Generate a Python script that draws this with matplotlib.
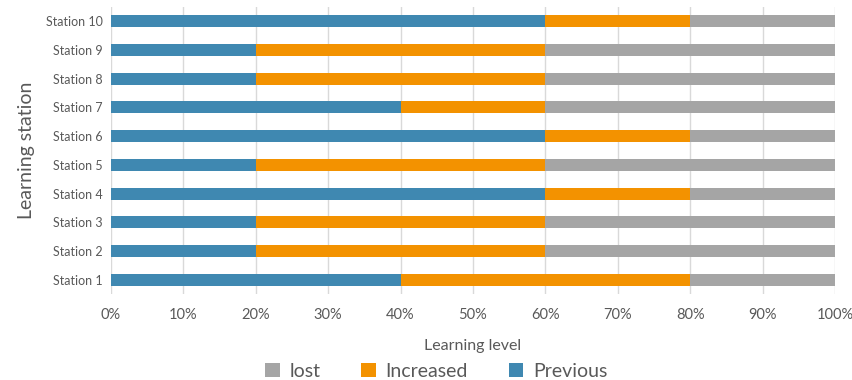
import matplotlib
matplotlib.use("Agg")
import matplotlib.pyplot as plt
import numpy as np

plt.rcParams['font.family'] = ['Lato', 'DejaVu Sans']

stations = [f"Station {i}" for i in range(1, 11)]
previous = [40, 20, 20, 60, 20, 60, 40, 20, 20, 60]
increased = [40, 40, 40, 20, 40, 20, 20, 40, 40, 20]
lost = [20, 40, 40, 20, 40, 20, 40, 40, 40, 20]

c_prev = '#3F88B1'
c_inc = '#F39200'
c_lost = '#A5A5A5'
txt = '#595959'

fig = plt.figure(figsize=(8.52, 3.8), dpi=100)
ax = fig.add_axes([0.1303, 0.2253, 0.8497, 0.7573])
y = np.arange(len(stations))
h = 0.42
prev = np.array(previous)
inc = np.array(increased)
ls = np.array(lost)
b1 = ax.barh(y, prev, height=h, color=c_prev, label='Previous', zorder=3)
b2 = ax.barh(y, inc, left=prev, height=h, color=c_inc, label='Increased', zorder=3)
b3 = ax.barh(y, ls, left=prev + inc, height=h, color=c_lost, label='lost', zorder=3)

ax.set_xlim(0, 100)
ax.set_ylim(-0.5, 9.5)
ax.set_xticks(np.arange(0, 101, 10))
ax.set_xticklabels([f"{v}%" for v in range(0, 101, 10)])
ax.set_yticks(y)
ax.set_yticklabels(stations)
ax.xaxis.grid(True, color='#D9D9D9', linewidth=1, zorder=0)
for s in ax.spines.values():
    s.set_visible(False)
ax.tick_params(axis='both', length=0, colors=txt)
ax.tick_params(axis='x', labelsize=10.5, pad=10)
ax.tick_params(axis='y', labelsize=9, pad=6)
ax.set_xlabel('Learning level', fontsize=11.5, color=txt, labelpad=12)
ax.set_ylabel('Learning station', fontsize=14, color=txt, labelpad=8)

handles = [b3, b2, b1]
fig.legend(handles, ['lost', 'Increased', 'Previous'], loc='lower center',
           bbox_to_anchor=(0.512, -0.045), ncol=3, frameon=False, fontsize=14,
           labelcolor=txt, handlelength=0.75, handleheight=0.75, columnspacing=2.1,
           handletextpad=0.5)

fig.savefig('out.png', dpi=100)
